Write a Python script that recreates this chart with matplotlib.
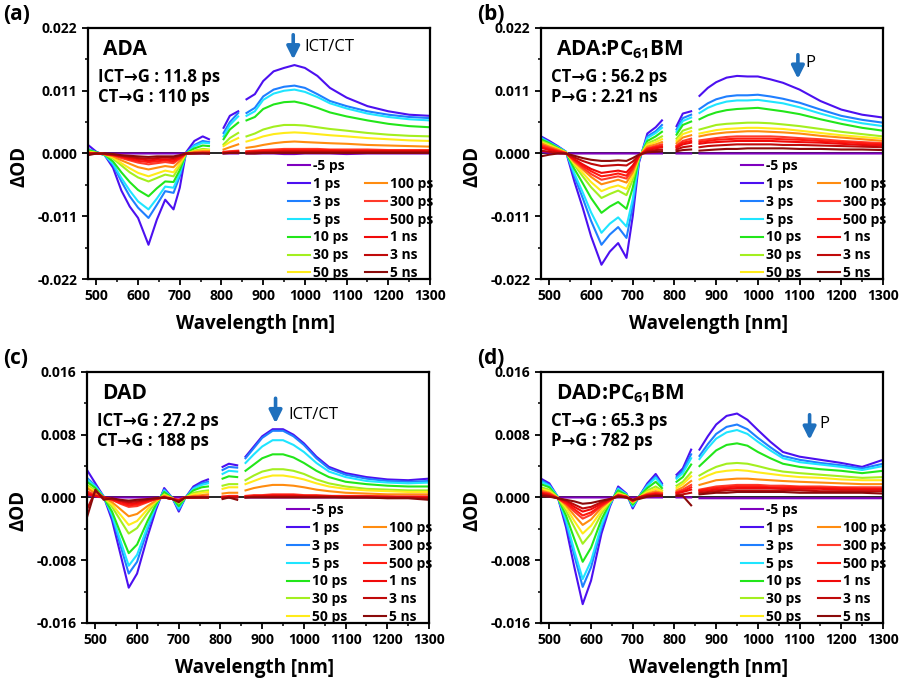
import numpy as np
import matplotlib
matplotlib.use("Agg")
import matplotlib.pyplot as plt
from matplotlib.ticker import MultipleLocator, FormatStrFormatter
from matplotlib.lines import Line2D

plt.rcParams['font.family'] = ['Open Sans', 'DejaVu Sans']
plt.rcParams['font.weight'] = 'bold'
plt.rcParams['mathtext.fontset'] = 'custom'
plt.rcParams['mathtext.rm'] = 'Open Sans:bold'
plt.rcParams['mathtext.bf'] = 'Open Sans:bold'
plt.rcParams['mathtext.it'] = 'Open Sans:bold'

delays = ['-5 ps', '1 ps', '3 ps', '5 ps', '10 ps', '30 ps', '50 ps',
          '100 ps', '300 ps', '500 ps', '1 ns', '3 ns', '5 ns']
colors = ['#7f00bf', '#4c10f0', '#1f7fff', '#1fe5ff', '#22e61a', '#a3ef1f', '#ffeb1a',
          '#ff8c10', '#ff3a2a', '#ff1a10', '#f00a0a', '#c00a0a', '#8b0a0a']

# probe wavelengths (nm), three detector windows
wl_vis = [480, 500, 520, 540, 560, 580, 600, 625, 645, 665, 685, 700, 715, 735, 755, 770]
wl_mid = [805, 820, 840]
wl_nir = [860, 880, 900, 925, 950, 975, 1000, 1030, 1060, 1100, 1150, 1200, 1250, 1300]

# dOD in mOD, one row per delay (vis | mid | nir)
ada = [
    [0.3, 0.1, 0, 0, 0, 0, 0, 0, 0, 0, 0, 0, 0, 0, 0, 0, 0, 0, 0, 0, 0, 0, 0, -0.1, -0.1, 0, 0, 0, -0.1, 0, 0, 0, 0],
    [1.5, 0.3, -0.3, -2.5, -6.5, -9.3, -11.3, -16.0, -11.6, -8.1, -9.8, -6.0, 0.2, 2.2, 3.0, 2.5, 4.5, 6.6, 7.4, 9.5, 10.4, 12.7, 14.4, 15.0, 15.5, 15.0, 13.6, 11.5, 9.8, 8.3, 7.4, 6.8, 6.6],
    [0.8, 0.2, -0.3, -2.0, -4.9, -7.5, -9.5, -11.3, -9.0, -6.6, -6.9, -4.0, 0.0, 1.5, 2.2, 2.0, 3.6, 5.5, 7.1, 7.1, 8.0, 10.0, 11.2, 11.7, 11.9, 11.5, 10.4, 9.2, 8.3, 7.4, 6.8, 6.4, 6.2],
    [0.7, 0.2, -0.3, -1.8, -4.3, -6.5, -8.4, -9.8, -7.9, -5.8, -6.0, -3.5, 0.0, 1.3, 1.9, 1.8, 3.0, 5.0, 6.5, 6.6, 7.4, 9.4, 10.5, 11.0, 11.2, 10.8, 9.9, 8.8, 7.9, 7.0, 6.4, 6.0, 5.8],
    [0.6, 0.2, -0.2, -1.4, -3.3, -5.0, -6.4, -7.5, -6.1, -4.9, -5.0, -2.9, 0.0, 0.9, 1.4, 1.3, 2.5, 4.2, 5.4, 5.8, 6.4, 7.8, 8.6, 9.0, 9.1, 8.7, 8.0, 7.2, 6.5, 5.8, 5.2, 4.8, 4.6],
    [0.4, 0.1, -0.2, -0.9, -2.1, -3.3, -4.2, -4.9, -4.3, -3.7, -4.0, -2.2, 0.0, 0.5, 0.8, 0.7, 1.6, 2.7, 3.6, 3.0, 3.5, 4.2, 4.7, 5.0, 5.0, 4.9, 4.6, 4.3, 4.0, 3.6, 3.3, 3.1, 3.0],
    [0.3, 0.1, -0.1, -0.7, -1.7, -2.6, -3.4, -4.0, -3.5, -3.0, -3.3, -1.8, 0.0, 0.4, 0.6, 0.6, 1.3, 2.0, 2.7, 2.1, 2.5, 3.0, 3.4, 3.6, 3.7, 3.6, 3.4, 3.2, 3.0, 2.7, 2.5, 2.3, 2.2],
    [0.2, 0.0, -0.1, -0.5, -1.2, -1.8, -2.4, -2.8, -2.5, -2.2, -2.4, -1.3, 0.0, 0.3, 0.4, 0.4, 0.7, 1.1, 1.6, 1.0, 1.2, 1.5, 1.8, 2.0, 2.1, 2.0, 1.9, 1.8, 1.7, 1.5, 1.4, 1.3, 1.2],
    [0.1, 0.0, -0.1, -0.3, -0.8, -1.2, -1.6, -1.9, -1.7, -1.5, -1.7, -0.9, 0.0, 0.1, 0.2, 0.2, 0.3, 0.4, 0.5, 0.4, 0.5, 0.6, 0.7, 0.8, 0.8, 0.8, 0.8, 0.7, 0.7, 0.7, 0.6, 0.6, 0.6],
    [0.1, 0.0, -0.1, -0.3, -0.6, -1.0, -1.3, -1.5, -1.4, -1.2, -1.4, -0.8, 0.0, 0.1, 0.1, 0.1, 0.2, 0.3, 0.4, 0.3, 0.4, 0.5, 0.5, 0.6, 0.6, 0.6, 0.6, 0.6, 0.5, 0.5, 0.5, 0.5, 0.5],
    [0.0, 0.0, -0.1, -0.2, -0.5, -0.8, -1.0, -1.2, -1.1, -1.0, -1.1, -0.6, 0.0, 0.1, 0.1, 0.1, 0.1, 0.2, 0.3, 0.2, 0.3, 0.3, 0.4, 0.4, 0.4, 0.4, 0.4, 0.4, 0.4, 0.4, 0.4, 0.4, 0.4],
    [0.0, 0.0, 0.0, -0.2, -0.4, -0.6, -0.8, -0.9, -0.8, -0.7, -0.8, -0.4, 0.0, 0.0, 0.1, 0.0, 0.1, 0.1, 0.2, 0.1, 0.2, 0.2, 0.2, 0.3, 0.3, 0.3, 0.3, 0.3, 0.3, 0.3, 0.3, 0.3, 0.3],
    [-0.3, 0.0, 0.0, -0.1, -0.3, -0.4, -0.5, -0.6, -0.5, -0.5, -0.5, -0.3, 0.0, 0.0, 0.0, 0.0, 0.0, 0.1, 0.1, 0.0, 0.0, 0.1, 0.1, 0.1, 0.1, 0.1, 0.1, 0.1, 0.1, 0.1, 0.1, 0.1, 0.1],
]

ada_pcbm = [
    [0.3, 0.1, 0, 0, 0, 0, 0, 0, 0, 0, 0, 0, 0, 0, 0, 0, 0, 0, 0, 0, 0, 0, 0, 0, 0, 0, 0, 0, 0, 0, 0, 0, 0],
    [3.0, 2.2, 1.3, 0.3, -4.9, -9.5, -14.5, -19.5, -17.2, -15.7, -18.3, -11.0, -1.6, 3.5, 4.6, 5.8, 4.8, 7.0, 7.4, 10.1, 11.5, 12.5, 13.3, 13.6, 13.5, 13.5, 13.0, 12.4, 11.2, 9.2, 7.7, 6.8, 6.3],
    [2.8, 2.0, 1.2, 0.3, -4.0, -7.8, -11.8, -16.0, -14.2, -12.9, -14.8, -9.2, -1.3, 3.0, 3.9, 5.0, 4.2, 6.2, 6.8, 7.8, 8.8, 9.5, 10.0, 10.2, 10.2, 10.3, 10.0, 9.6, 8.9, 7.7, 6.6, 5.9, 5.4],
    [2.7, 1.9, 1.1, 0.3, -3.5, -6.8, -10.3, -13.9, -12.3, -11.2, -12.8, -8.0, -1.1, 2.7, 3.6, 4.5, 3.8, 5.7, 6.3, 7.1, 8.0, 8.6, 9.1, 9.3, 9.3, 9.4, 9.1, 8.8, 8.1, 7.0, 6.0, 5.3, 4.8],
    [2.5, 1.8, 1.0, 0.2, -2.7, -5.2, -7.8, -10.4, -9.3, -8.5, -9.7, -6.0, -0.9, 2.2, 3.0, 3.8, 3.3, 5.0, 5.6, 6.0, 6.7, 7.2, 7.6, 7.8, 7.9, 8.0, 7.7, 7.4, 6.9, 6.0, 5.2, 4.5, 4.0],
    [2.2, 1.6, 0.9, 0.2, -2.0, -4.0, -5.9, -7.8, -7.1, -6.5, -7.3, -4.6, -0.7, 1.8, 2.4, 3.0, 2.6, 4.0, 4.5, 4.2, 4.6, 5.0, 5.2, 5.3, 5.4, 5.4, 5.3, 5.1, 4.8, 4.3, 3.8, 3.4, 3.0],
    [2.0, 1.4, 0.8, 0.2, -1.8, -3.4, -5.0, -6.6, -6.0, -5.6, -6.2, -3.9, -0.6, 1.5, 2.0, 2.5, 2.2, 3.4, 3.9, 3.5, 3.8, 4.1, 4.3, 4.4, 4.5, 4.5, 4.4, 4.3, 4.0, 3.6, 3.2, 2.9, 2.6],
    [1.8, 1.2, 0.7, 0.1, -1.5, -2.8, -4.1, -5.4, -5.0, -4.6, -5.1, -3.3, -0.5, 1.2, 1.6, 2.0, 1.8, 2.8, 3.2, 3.0, 3.3, 3.5, 3.7, 3.8, 3.9, 3.9, 3.8, 3.7, 3.5, 3.1, 2.8, 2.5, 2.2],
    [1.5, 1.0, 0.5, 0.1, -1.3, -2.5, -3.6, -4.6, -4.3, -4.0, -4.4, -2.8, -0.5, 0.9, 1.3, 1.6, 1.4, 2.2, 2.6, 2.3, 2.5, 2.7, 2.9, 3.0, 3.0, 3.0, 3.0, 2.9, 2.7, 2.5, 2.2, 2.0, 1.8],
    [1.2, 0.8, 0.4, 0.0, -1.1, -2.2, -3.1, -4.0, -3.8, -3.5, -3.9, -2.5, -0.4, 0.8, 1.1, 1.3, 1.2, 1.9, 2.2, 2.0, 2.2, 2.4, 2.5, 2.6, 2.6, 2.6, 2.6, 2.5, 2.4, 2.2, 2.0, 1.8, 1.6],
    [1.0, 0.6, 0.3, 0.0, -1.0, -1.9, -2.7, -3.4, -3.2, -3.0, -3.3, -2.1, -0.4, 0.6, 0.9, 1.1, 1.0, 1.6, 1.9, 1.7, 1.9, 2.0, 2.1, 2.2, 2.2, 2.2, 2.2, 2.1, 2.0, 1.9, 1.7, 1.5, 1.4],
    [0.5, 0.3, 0.1, 0.0, -0.7, -1.3, -1.8, -2.2, -2.1, -2.0, -2.1, -1.4, -0.3, 0.4, 0.6, 0.7, 0.7, 1.1, 1.3, 1.1, 1.3, 1.4, 1.5, 1.6, 1.6, 1.6, 1.6, 1.5, 1.5, 1.4, 1.3, 1.2, 1.1],
    [-0.5, -0.2, 0.0, 0.0, -0.4, -0.8, -1.1, -1.3, -1.3, -1.2, -1.3, -0.8, -0.2, 0.2, 0.3, 0.4, 0.4, 0.6, 0.7, 0.5, 0.6, 0.7, 0.8, 0.8, 0.9, 0.9, 0.9, 0.9, 0.8, 0.8, 0.7, 0.7, 0.6],
]

dad = [
    [0.3, 0.1, 0, 0, 0, 0, 0, 0, 0, 0, 0, 0, 0, 0, 0, 0, 0, 0, 0, 0, 0, 0, 0, 0, 0, 0, 0, 0, 0, 0, 0, 0, 0],
    [3.5, 1.8, 0.1, -2.9, -7.2, -11.5, -9.7, -5.0, -1.6, 1.2, -0.1, -1.8, -0.1, 1.4, 2.0, 2.3, 3.9, 4.3, 4.1, 5.2, 6.5, 7.8, 8.7, 8.7, 8.0, 6.9, 5.2, 3.9, 3.1, 2.6, 2.3, 2.2, 2.4],
    [2.5, 1.5, 0.1, -2.4, -6.1, -9.7, -8.2, -4.1, -1.2, 1.0, -0.1, -1.6, -0.1, 1.2, 1.8, 2.0, 3.5, 3.9, 3.8, 5.0, 6.3, 7.6, 8.5, 8.5, 7.8, 6.7, 5.0, 3.7, 2.9, 2.4, 2.1, 2.0, 2.1],
    [2.3, 1.4, 0.1, -2.2, -5.5, -8.7, -7.3, -3.7, -1.1, 0.9, -0.1, -1.4, -0.1, 1.1, 1.6, 1.8, 3.0, 3.4, 3.3, 4.4, 5.5, 6.5, 7.3, 7.3, 6.7, 5.8, 4.4, 3.3, 2.6, 2.1, 1.9, 1.8, 1.9],
    [2.0, 1.2, 0.0, -1.8, -4.5, -7.1, -6.0, -3.0, -0.9, 0.7, -0.1, -1.1, -0.1, 0.9, 1.3, 1.4, 2.4, 2.7, 2.6, 3.4, 4.2, 5.0, 5.5, 5.5, 5.1, 4.4, 3.4, 2.6, 2.0, 1.7, 1.5, 1.4, 1.4],
    [1.6, 0.9, 0.0, -1.2, -2.9, -4.6, -3.9, -2.0, -0.6, 0.4, -0.1, -0.7, -0.1, 0.6, 0.8, 0.9, 1.5, 1.7, 1.7, 2.2, 2.8, 3.3, 3.6, 3.6, 3.4, 3.0, 2.3, 1.8, 1.4, 1.1, 1.0, 0.9, 0.9],
    [1.4, 0.7, 0.0, -0.9, -2.2, -3.5, -3.0, -1.5, -0.5, 0.3, -0.1, -0.6, 0.0, 0.4, 0.6, 0.7, 1.1, 1.3, 1.3, 1.7, 2.1, 2.5, 2.8, 2.8, 2.6, 2.3, 1.8, 1.4, 1.1, 0.9, 0.8, 0.7, 0.7],
    [1.2, 0.5, 0.0, -0.6, -1.5, -2.4, -2.1, -1.1, -0.4, 0.2, -0.1, -0.4, 0.0, 0.2, 0.3, 0.4, 0.5, 0.6, 0.6, 0.9, 1.2, 1.4, 1.6, 1.6, 1.5, 1.3, 1.0, 0.8, 0.6, 0.5, 0.4, 0.4, 0.4],
    [0.8, 0.3, 0.0, -0.3, -0.8, -1.2, -1.1, -0.6, -0.2, 0.1, -0.2, -0.4, 0.0, 0.1, 0.1, 0.1, 0.1, 0.2, 0.2, 0.2, 0.3, 0.3, 0.4, 0.4, 0.4, 0.3, 0.3, 0.2, 0.2, 0.2, 0.1, 0.1, 0.1],
    [0.6, 0.2, 0.0, -0.3, -0.7, -1.0, -0.9, -0.5, -0.2, 0.0, -0.2, -0.4, 0.0, 0.0, 0.1, 0.1, 0.1, 0.1, 0.1, 0.1, 0.2, 0.2, 0.3, 0.3, 0.3, 0.2, 0.2, 0.2, 0.1, 0.1, 0.1, 0.1, 0.1],
    [0.4, 0.2, 0.0, -0.2, -0.5, -0.8, -0.7, -0.4, -0.2, 0.0, -0.2, -0.3, 0.0, 0.0, 0.0, 0.0, 0.0, 0.1, 0.1, 0.1, 0.1, 0.2, 0.2, 0.2, 0.2, 0.2, 0.1, 0.1, 0.1, 0.1, 0.1, 0.0, 0.0],
    [-1.5, 0.8, 0.0, -0.2, -0.4, -0.6, -0.5, -0.3, -0.1, 0.0, -0.2, -0.5, 0.0, 0.0, 0.0, 0.0, 0.0, 0.0, 0.0, 0.0, 0.1, 0.1, 0.1, 0.1, 0.1, 0.1, 0.1, 0.1, 0.0, 0.0, 0.0, 0.0, -0.1],
    [-2.5, 1.0, -0.3, -0.1, -0.3, -0.4, -0.3, -0.2, -0.1, 0.0, -0.2, -0.6, 0.0, 0.0, 0.0, 0.0, -0.2, 0.0, -0.3, 0.0, 0.0, 0.0, 0.0, 0.0, 0.0, 0.0, 0.0, 0.0, 0.0, 0.0, -0.1, -0.1, -0.3],
]

dad_pcbm = [
    [0.3, 0.1, 0, 0, 0, 0, 0, 0, 0, 0, 0, 0, 0, 0, 0, 0, 0, 0, 0, -0.1, -0.1, -0.1, -0.1, -0.1, -0.1, -0.1, -0.1, -0.1, -0.1, -0.1, -0.1, -0.1, -0.1],
    [2.4, 1.8, 0.1, -3.8, -8.9, -13.6, -10.6, -4.6, -1.2, 1.4, 0.5, -1.4, 0.1, 1.8, 3.0, 1.8, 2.9, 3.7, 6.1, 6.1, 7.8, 9.3, 10.4, 10.7, 9.9, 8.6, 7.1, 5.8, 5.2, 4.8, 4.4, 3.9, 4.8],
    [2.2, 1.6, 0.1, -3.2, -7.4, -11.4, -8.9, -3.9, -1.0, 1.2, 0.4, -1.2, 0.1, 1.6, 2.7, 1.6, 2.6, 3.4, 5.5, 5.3, 6.8, 8.1, 9.0, 9.3, 8.7, 7.6, 6.4, 5.3, 4.8, 4.4, 4.1, 3.7, 4.3],
    [2.0, 1.5, 0.1, -2.9, -6.8, -10.4, -8.1, -3.5, -0.9, 1.1, 0.4, -1.1, 0.1, 1.5, 2.5, 1.5, 2.4, 3.1, 5.0, 4.9, 6.3, 7.5, 8.3, 8.6, 8.1, 7.1, 6.0, 5.0, 4.5, 4.2, 3.9, 3.5, 4.0],
    [1.7, 1.3, 0.0, -2.3, -5.3, -8.2, -6.4, -2.8, -0.7, 0.9, 0.3, -0.9, 0.1, 1.2, 2.0, 1.2, 2.0, 2.6, 4.2, 4.0, 5.0, 6.0, 6.7, 6.9, 6.6, 5.8, 5.0, 4.3, 3.9, 3.6, 3.4, 3.1, 3.4],
    [1.3, 1.0, 0.0, -1.7, -3.8, -5.9, -4.6, -2.1, -0.6, 0.6, 0.2, -0.7, 0.0, 0.9, 1.4, 0.9, 1.5, 2.0, 3.2, 2.8, 3.4, 3.9, 4.3, 4.4, 4.3, 4.0, 3.6, 3.3, 3.1, 2.9, 2.7, 2.5, 2.6],
    [1.1, 0.8, 0.0, -1.3, -3.0, -4.6, -3.6, -1.7, -0.5, 0.5, 0.2, -0.6, 0.0, 0.7, 1.1, 0.8, 1.2, 1.7, 2.7, 2.3, 2.8, 3.2, 3.4, 3.5, 3.4, 3.2, 3.0, 2.8, 2.6, 2.5, 2.3, 2.2, 2.2],
    [0.9, 0.6, 0.0, -1.0, -2.3, -3.5, -2.8, -1.3, -0.4, 0.4, 0.1, -0.5, 0.0, 0.5, 0.8, 0.6, 0.9, 1.3, 2.1, 1.6, 1.9, 2.2, 2.3, 2.4, 2.4, 2.3, 2.2, 2.1, 2.0, 1.9, 1.8, 1.7, 1.7],
    [0.7, 0.5, -0.1, -0.8, -1.8, -2.7, -2.2, -1.1, -0.4, 0.3, 0.1, -0.5, 0.0, 0.4, 0.6, 0.5, 0.7, 1.0, 1.6, 1.0, 1.2, 1.4, 1.5, 1.6, 1.6, 1.6, 1.5, 1.5, 1.4, 1.4, 1.3, 1.3, 1.3],
    [0.6, 0.4, -0.1, -0.7, -1.5, -2.3, -1.9, -1.0, -0.3, 0.3, 0.1, -0.4, 0.0, 0.3, 0.5, 0.4, 0.6, 0.8, 1.3, 0.9, 1.1, 1.2, 1.3, 1.4, 1.4, 1.4, 1.3, 1.3, 1.3, 1.2, 1.2, 1.1, 1.1],
    [0.5, 0.3, -0.1, -0.5, -1.2, -1.8, -1.5, -0.8, -0.3, 0.2, 0.0, -0.4, 0.0, 0.3, 0.4, 0.3, 0.5, 0.7, 1.0, 0.8, 0.9, 1.0, 1.1, 1.2, 1.2, 1.2, 1.2, 1.1, 1.1, 1.1, 1.0, 1.0, 1.0],
    [0.4, 0.2, -0.1, -0.4, -0.9, -1.4, -1.2, -0.6, -0.2, 0.2, 0.0, -0.3, 0.0, 0.2, 0.3, 0.3, 0.3, 0.4, 0.6, 0.6, 0.7, 0.8, 0.9, 0.9, 0.9, 0.9, 0.9, 0.9, 0.9, 0.8, 0.8, 0.8, 0.8],
    [0.2, 0.1, -0.1, -0.3, -0.5, -0.8, -0.7, -0.4, -0.2, 0.1, 0.0, -0.3, -0.2, 0.1, 0.2, 0.2, 0.2, 0.2, -1.0, 0.4, 0.5, 0.6, 0.6, 0.7, 0.7, 0.7, 0.7, 0.7, 0.6, 0.6, 0.6, 0.6, 0.5],
]

panels = [
    # label, data, name, lifetimes, y range, feature label + position, arrow x, arrow top, arrow tip
    ('(a)', ada, 'ADA', ['ICT\u2192G : 11.8 ps', 'CT\u2192G : 110 ps'], 0.022,
     ('ICT/CT', 998, 0.0186), 972, 0.0213, 0.0160),
    ('(b)', ada_pcbm, 'ADA:PC$_{61}$BM', ['CT\u2192G : 56.2 ps', 'P\u2192G : 2.21 ns'], 0.022,
     ('P', 1113, 0.0158), 1096, 0.0178, 0.0126),
    ('(c)', dad, 'DAD', ['ICT\u2192G : 27.2 ps', 'CT\u2192G : 188 ps'], 0.016,
     ('ICT/CT', 963, 0.0105), 932, 0.0130, 0.0091),
    ('(d)', dad_pcbm, 'DAD:PC$_{61}$BM', ['CT\u2192G : 65.3 ps', 'P\u2192G : 782 ps'], 0.016,
     ('P', 1148, 0.0094), 1124, 0.0109, 0.0070),
]
axes_pos = [(0.0978, 0.5903), (0.6011, 0.5903), (0.0967, 0.0852), (0.6011, 0.0852)]
fig_label_pos = [(0.004, 0.978), (0.53, 0.978), (0.004, 0.474), (0.53, 0.474)]

fig = plt.figure(figsize=(9, 6.81), dpi=100)

wl = np.concatenate([wl_vis, [np.nan], wl_mid, [np.nan], wl_nir])
n1, n2 = len(wl_vis), len(wl_vis) + len(wl_mid)

for (label, data, name, lifetimes, ymax, feat, ax_x, ax_top, ax_tip), (x0, y0), (fx, fy) in zip(panels, axes_pos, fig_label_pos):
    ax = fig.add_axes([x0, y0, 0.38, 0.3686])
    ax.axhline(0, color='black', lw=1.2, zorder=1)
    lines = []
    for row, d, c in zip(data, delays, colors):
        y = np.insert(np.array(row, dtype=float), [n1, n2], np.nan) * 1e-3
        ln, = ax.plot(wl, y, color=c, lw=1.5, label=d, zorder=2)
        lines.append(ln)

    ax.set_xlim(480, 1300)
    ax.set_ylim(-ymax, ymax)
    ax.xaxis.set_major_locator(MultipleLocator(100))
    ax.xaxis.set_minor_locator(MultipleLocator(50))
    ax.yaxis.set_major_locator(MultipleLocator(ymax / 2))
    ax.yaxis.set_minor_locator(MultipleLocator(ymax / 4))
    ax.yaxis.set_major_formatter(FormatStrFormatter('%.3f'))
    ax.tick_params(which='major', direction='out', length=4, width=1.3, labelsize=10)
    ax.tick_params(which='minor', direction='out', length=2.5, width=1.1)
    for sp in ax.spines.values():
        sp.set_linewidth(1.6)

    ax.set_xlabel('Wavelength [nm]', fontsize=13.5, fontweight='bold')
    ax.xaxis.set_label_coords(0.49, -0.14)
    ax.set_ylabel('\u0394OD', fontsize=13.5, fontweight='bold')
    ax.yaxis.set_label_coords(-0.172, 0.45)

    ax.text(0.045, 0.915, name, transform=ax.transAxes, fontsize=15, fontweight='bold', va='center')
    ax.text(0.03, 0.805, lifetimes[0], transform=ax.transAxes, fontsize=12, fontweight='bold', va='center')
    ax.text(0.03, 0.725, lifetimes[1], transform=ax.transAxes, fontsize=12, fontweight='bold', va='center')

    ax.annotate('', xy=(ax_x, ax_tip), xytext=(ax_x, ax_top),
                arrowprops=dict(arrowstyle='-|>', color='#1f70bd', lw=2.6, mutation_scale=19))
    ax.text(feat[1], feat[2], feat[0], fontsize=12, fontweight='normal', va='center')

    blank = Line2D([], [], color='none')
    handles = lines[:7] + [blank] + lines[7:]
    labels = delays[:7] + [''] + delays[7:]
    ax.legend(handles, labels, ncol=2, loc='lower left', bbox_to_anchor=(0.585, -0.005),
              frameon=False, fontsize=10, handlelength=1.6, handletextpad=0.2,
              columnspacing=1.2, labelspacing=0.28, borderpad=0, borderaxespad=0)

    fig.text(fx, fy, label, fontsize=15, fontweight='bold', va='center')

fig.savefig('out.png', dpi=100)
